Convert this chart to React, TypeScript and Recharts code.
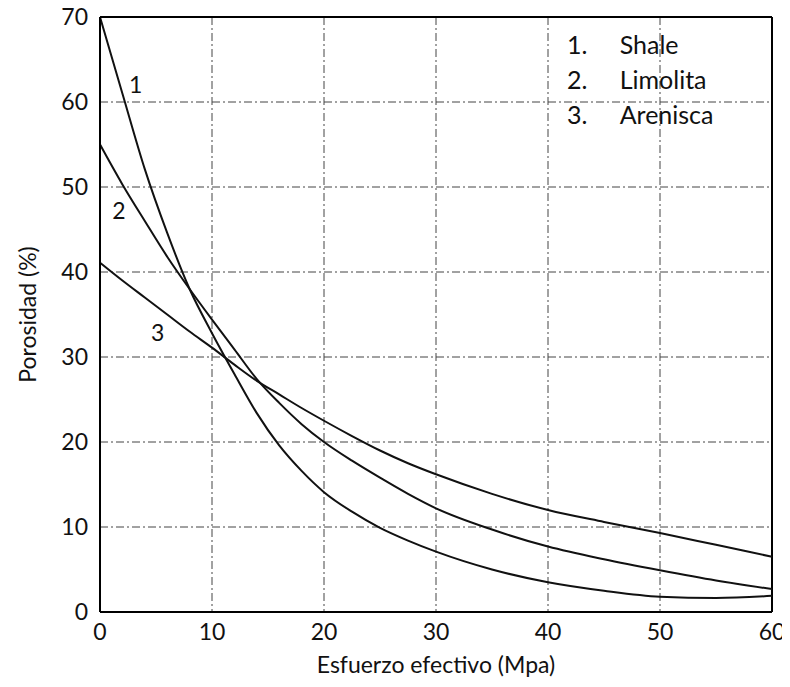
import { LineChart, Line, XAxis, YAxis, CartesianGrid, ReferenceLine, ReferenceDot } from "recharts";

const esfuerzo = [0, 2, 4, 6, 8, 10, 12, 14, 16, 18, 20, 22.5, 25, 27.5, 30, 35, 40, 45, 50, 55, 60];
const shale = [70, 61, 52.1, 44.6, 38, 32.8, 28, 23.4, 19.6, 16.6, 14.1, 11.8, 9.9, 8.4, 7.1, 5, 3.5, 2.5, 1.8, 1.65, 1.9];
const limolita = [55, 50.3, 46, 41.8, 38, 34.4, 30.9, 27.4, 24.6, 22.1, 20, 17.8, 15.8, 13.9, 12.2, 9.7, 7.7, 6.2, 4.9, 3.7, 2.7];
const arenisca = [41.1, 39, 37, 35, 33, 31.1, 29.1, 27.2, 25.6, 24, 22.5, 20.7, 19, 17.5, 16.2, 13.9, 12, 10.6, 9.3, 7.9, 6.5];

const xTicks = [0, 10, 20, 30, 40, 50, 60];
const yTicks = [0, 10, 20, 30, 40, 50, 60, 70];

const curveTags = [
  { x: 2.6, y: 62, text: "1" },
  { x: 1.1, y: 47.2, text: "2" },
  { x: 4.55, y: 32.8, text: "3" },
];

const legendNums = ["1.", "2.", "3."];
const legendNames = ["Shale", "Limolita", "Arenisca"];
const legendRows = [66.7, 62.6, 58.5];

const data = esfuerzo.map((x, i) => ({
  x,
  shale: shale[i],
  limolita: limolita[i],
  arenisca: arenisca[i],
}));

const font = "Lato, 'Open Sans', sans-serif";

const textLabel = (value: string, size: number) => (props: any) => {
  const { viewBox } = props;
  return (
    <text x={viewBox.x} y={viewBox.y} dy="0.35em" textAnchor="start" fontSize={size} fontFamily={font} fill="#111">
      {value}
    </text>
  );
};

export default function App() {
  return (
    <div style={{ marginTop: -6 }}>
      <LineChart width={782} height={677} data={data} margin={{ top: 15, right: 18, bottom: 22, left: 12 }}>
        <CartesianGrid stroke="#444" strokeDasharray="8 3 2 3" strokeWidth={1} />
        <XAxis
          dataKey="x"
          type="number"
          domain={[0, 60]}
          ticks={xTicks}
          tickLine={false}
          tickSize={6}
          tickMargin={6}
          height={45}
          axisLine={{ stroke: "#000", strokeWidth: 2 }}
          tick={{ fill: "#111", fontSize: 23, fontFamily: font }}
          label={{ value: "Esfuerzo efectivo (Mpa)", position: "insideBottom", offset: -16, fill: "#111", fontSize: 23, fontFamily: font }}
        />
        <YAxis
          type="number"
          domain={[0, 70]}
          ticks={yTicks}
          tickLine={false}
          tickSize={6}
          tickMargin={6}
          width={80}
          axisLine={{ stroke: "#000", strokeWidth: 2 }}
          tick={{ fill: "#111", fontSize: 23, fontFamily: font }}
          label={{ value: "Porosidad (%)", angle: -90, position: "insideLeft", offset: 8, fill: "#111", fontSize: 23, fontFamily: font, style: { textAnchor: "middle" } }}
        />
        <ReferenceLine y={70} stroke="#000" strokeWidth={2} />
        <ReferenceLine x={60} stroke="#000" strokeWidth={2} />
        <Line type="monotone" dataKey="shale" stroke="#111" strokeWidth={2} dot={false} isAnimationActive={false} />
        <Line type="monotone" dataKey="limolita" stroke="#111" strokeWidth={2} dot={false} isAnimationActive={false} />
        <Line type="monotone" dataKey="arenisca" stroke="#111" strokeWidth={2} dot={false} isAnimationActive={false} />
        {curveTags.map((t) => (
          <ReferenceDot key={t.text} x={t.x} y={t.y} r={0} fill="none" stroke="none" label={textLabel(t.text, 23)} />
        ))}
        {legendRows.map((y, i) => (
          <ReferenceDot key={"n" + i} x={41.7} y={y} r={0} fill="none" stroke="none" label={textLabel(legendNums[i], 25)} />
        ))}
        {legendRows.map((y, i) => (
          <ReferenceDot key={"l" + i} x={46.4} y={y} r={0} fill="none" stroke="none" label={textLabel(legendNames[i], 25)} />
        ))}
      </LineChart>
    </div>
  );
}
